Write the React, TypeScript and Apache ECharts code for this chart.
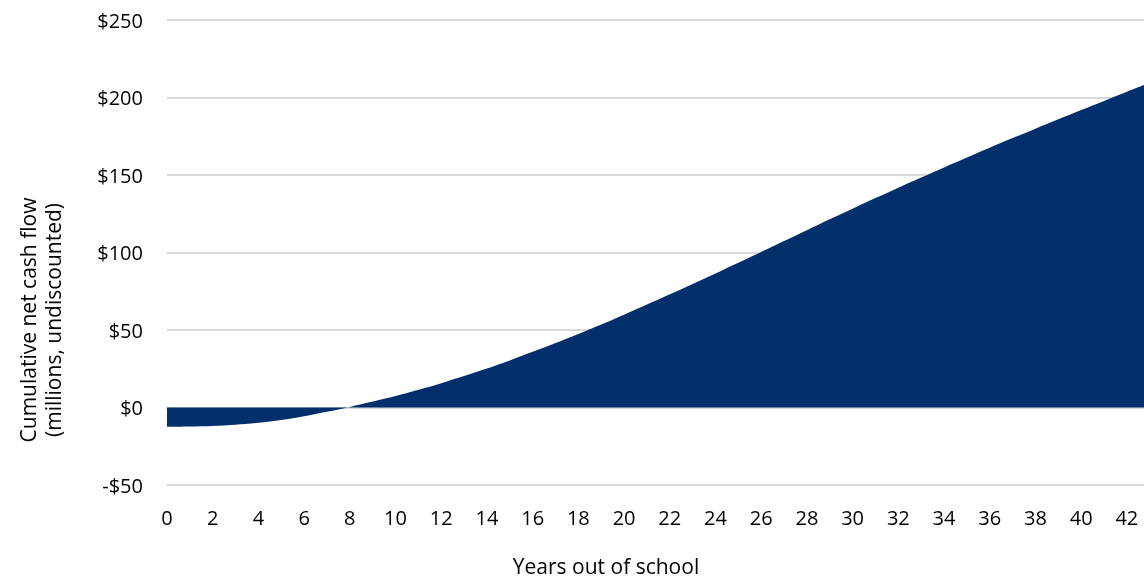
import React, { useEffect, useRef } from "react";
import * as echarts from "echarts";

const years = [
  0, 1, 2, 3, 4, 5, 6, 7, 8, 9, 10, 11, 12, 13, 14, 15, 16, 17, 18, 19, 20, 21,
  22, 23, 24, 25, 26, 27, 28, 29, 30, 31, 32, 33, 34, 35, 36, 37, 38, 39, 40,
  41, 42, 43,
];
const cumulativeCash = [
  -12.5, -12.3, -11.9, -11.1, -9.9, -8.1, -5.7, -2.8, 0.4, 3.8, 7.4, 11.4,
  15.7, 20.3, 25.2, 30.4, 35.9, 41.6, 47.5, 53.6, 59.9, 66.4, 73.0, 79.7, 86.5,
  93.4, 100.4, 107.4, 114.4, 121.4, 128.3, 135.1, 141.8, 148.4, 154.9, 161.3,
  167.6, 173.8, 179.9, 185.9, 191.9, 197.8, 203.7, 209.5,
];
const yTicks = { min: -50, max: 250, interval: 50 };
const xTicks = { min: 0, max: 42.75, interval: 2 };
const yAxisTitle = ["Cumulative net cash flow", "(millions, undiscounted)"];
const xAxisTitle = "Years out of school";

const FONT = "'Open Sans', 'Noto Sans', sans-serif";

export default function App() {
  const ref = useRef<HTMLDivElement>(null);
  useEffect(() => {
    if (!ref.current) return;
    const chart = echarts.init(ref.current, undefined, { renderer: "svg" });
    chart.setOption({
      animation: false,
      grid: { left: 167, right: 0, top: 20, bottom: 98, containLabel: false },
      xAxis: {
        type: "value",
        min: xTicks.min,
        max: xTicks.max,
        interval: xTicks.interval,
        axisLine: { show: true, lineStyle: { color: "#d9d9d9", width: 2 } },
        axisTick: { show: false },
        splitLine: { show: false },
        axisLabel: {
          color: "#000",
          fontFamily: FONT,
          fontSize: 20,
          margin: 22,
          showMaxLabel: false,
          formatter: (v: number) => (v % 2 === 0 ? String(v) : ""),
        },
      },
      yAxis: {
        type: "value",
        min: yTicks.min,
        max: yTicks.max,
        interval: yTicks.interval,
        axisLine: { show: false },
        axisTick: { show: false },
        splitLine: { show: true, lineStyle: { color: "#d9d9d9", width: 2 } },
        axisLabel: {
          color: "#000",
          fontFamily: FONT,
          fontSize: 20,
          margin: 24,
          formatter: (v: number) => (v < 0 ? "-$" + Math.abs(v) : "$" + v),
        },
      },
      graphic: [
        {
          type: "text",
          x: 28,
          y: 320,
          rotation: Math.PI / 2,
          style: {
            text: yAxisTitle[0],
            fontFamily: FONT,
            fontSize: 21,
            fill: "#000",
            align: "center",
            verticalAlign: "middle",
          },
        },
        {
          type: "text",
          x: 53,
          y: 320,
          rotation: Math.PI / 2,
          style: {
            text: yAxisTitle[1],
            fontFamily: FONT,
            fontSize: 21,
            fill: "#000",
            align: "center",
            verticalAlign: "middle",
          },
        },
        {
          type: "text",
          x: 606,
          y: 566,
          style: {
            text: xAxisTitle,
            fontFamily: FONT,
            fontSize: 21,
            fill: "#000",
            align: "center",
            verticalAlign: "middle",
          },
        },
      ],
      series: [
        {
          type: "line",
          data: years.map((y, i) => [y, cumulativeCash[i]]),
          smooth: 0.3,
          showSymbol: false,
          lineStyle: { width: 0 },
          areaStyle: { color: "#002f6c", opacity: 1, origin: 0 },
          itemStyle: { color: "#002f6c" },
          clip: true,
        },
      ],
    });
    return () => chart.dispose();
  }, []);
  return (
    <div
      ref={ref}
      style={{ position: "fixed", left: 0, top: 0, width: 1144, height: 583 }}
    />
  );
}
